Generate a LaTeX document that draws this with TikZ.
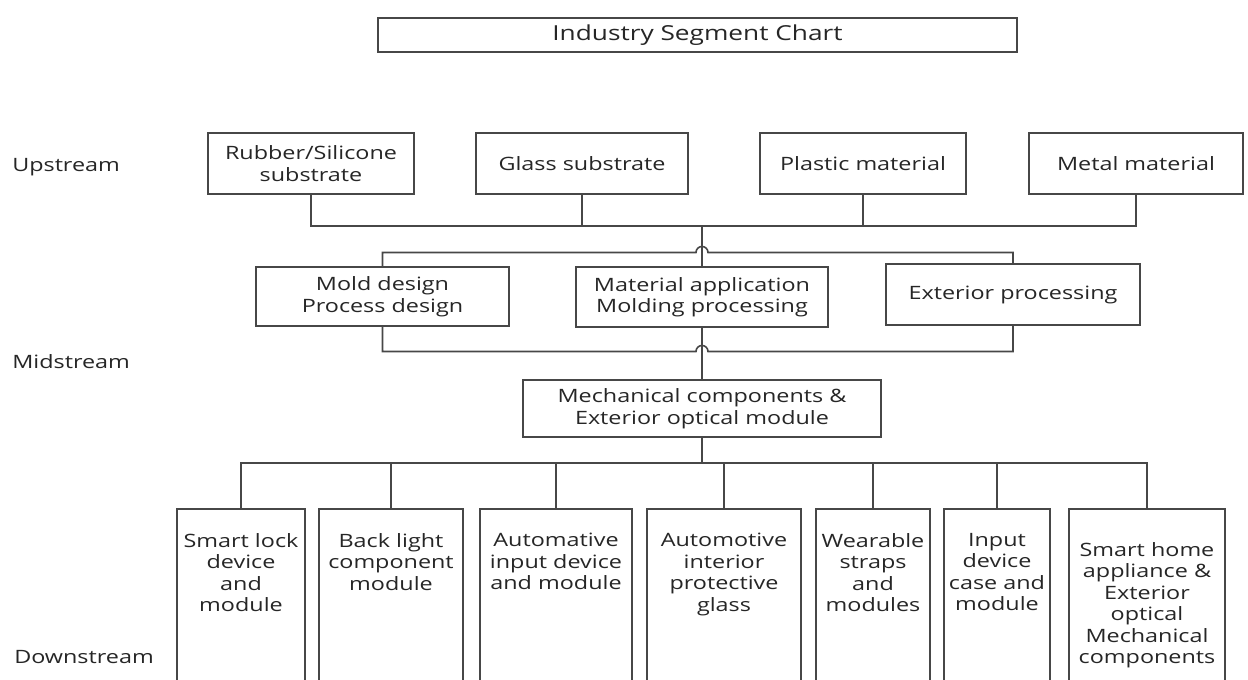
\documentclass[tikz,border=0pt]{standalone}
\usepackage{fontspec}
\setmainfont{Open Sans}[FakeStretch=1.27]
\newcommand\diagfont{\fontsize{13.8}{16.1}\selectfont}
\newcommand\titlefont{\fontsize{15.5}{18}\selectfont}
\begin{document}
\begin{tikzpicture}[x=0.75pt,y=-0.75pt,
  ln/.style={draw=black!72, line width=1.2pt},
  box/.style={ln, inner sep=0pt, outer sep=0pt, align=center, text=black!85, font=\diagfont},
  sz/.style 2 args={minimum width=#1*0.75pt, minimum height=#2*0.75pt},
  txt/.style={inner sep=0pt, align=center, text=black!85, font=\diagfont},
  side/.style={inner sep=0pt, anchor=west, text=black!85, font=\diagfont}]
\useasboundingbox (0,0) rectangle (1248,680);
\clip (0,0) rectangle (1248,680);
\fill[white] (0,0) rectangle (1248,680);

% title
\node[box, sz={639}{34}, font=\titlefont] (title) at (697.5,35) {Industry Segment Chart};

% side labels
\node[side] (lup) at (12,167) {Upstream};
\node[side] (lmid) at (12,362) {Midstream};
\node[side] (ldown) at (14,657) {Downstream};

% upstream
\node[box, sz={206}{61}] (rub) at (311,163.5) {Rubber/Silicone\\substrate};
\node[box, sz={212}{61}] (gla) at (582,163.5) {Glass substrate};
\node[box, sz={206}{61}] (pla) at (863,163.5) {Plastic material};
\node[box, sz={214}{61}] (met) at (1136,163.5) {Metal material};

% midstream processes
\node[box, sz={253}{59}] (mol) at (382.5,296.5) {Mold design\\Process design};
\node[box, sz={252}{60}] (mat) at (702,297) {Material application\\Molding processing};
\node[box, sz={254}{61}] (ext) at (1013,294.5) {Exterior processing};

% mechanical
\node[box, sz={358}{57}] (mech) at (702,408.5) {Mechanical components \&\\Exterior optical module};

% downstream boxes
\node[box, sz={128}{191}] (b1) at (241,604.5) {};
\node[box, sz={144}{191}] (b2) at (391,604.5) {};
\node[box, sz={152}{191}] (b3) at (556,604.5) {};
\node[box, sz={154}{191}] (b4) at (724,604.5) {};
\node[box, sz={114}{191}] (b5) at (873,604.5) {};
\node[box, sz={106}{191}] (b6) at (997,604.5) {};
\node[box, sz={156}{191}] (b7) at (1147,604.5) {};

\node[txt, anchor=north] (t1) at (b1.north |- 0,533) {Smart lock\\device\\and\\module};
\node[txt, anchor=north] (t2) at (b2.north |- 0,533) {Back light\\component\\module};
\node[txt, anchor=north] (t3) at (b3.north |- 0,533) {Automative\\input device\\and module};
\node[txt, anchor=north] (t4) at (b4.north |- 0,533) {Automotive\\interior\\protective\\glass};
\node[txt, anchor=north] (t5) at (b5.north |- 0,533) {Wearable\\straps\\and\\modules};
\node[txt, anchor=north] (t6) at (b6.north |- 0,533) {Input\\device\\case and\\module};
\node[txt, anchor=north] (t7) at (b7.north |- 0,542) {Smart home\\appliance \&\\Exterior\\optical\\Mechanical\\components};

% upstream bus
\coordinate (up) at (702,226);
\draw[ln] (rub.south) -- (rub.south |- up) -- (met.south |- up) -- (met.south);
\draw[ln] (gla.south) -- (gla.south |- up);
\draw[ln] (pla.south) -- (pla.south |- up);
\draw[ln] (up) -- (mat.north);

% midstream top bus with hop
\coordinate (mt) at (702,252.5);
\draw[ln] (mol.north) -- (mol.north |- mt) -- ([xshift=-4.5pt]mt)
  arc[start angle=180, end angle=360, radius=6] -- (ext.north |- mt) -- (ext.north);

% midstream bottom bus with hop
\coordinate (mb) at (702,351.5);
\draw[ln] (mol.south) -- (mol.south |- mb) -- ([xshift=-4.5pt]mb)
  arc[start angle=180, end angle=360, radius=6] -- (ext.south |- mb) -- (ext.south);
\draw[ln] (mat.south) -- (mech.north);

% downstream bus
\coordinate (dn) at (702,463);
\draw[ln] (mech.south) -- (dn);
\draw[ln] (b1.north) -- (b1.north |- dn) -- (b7.north |- dn) -- (b7.north);
\foreach \b in {b2,b3,b4,b5,b6}
  \draw[ln] (\b.north) -- (\b.north |- dn);
\end{tikzpicture}
\end{document}
